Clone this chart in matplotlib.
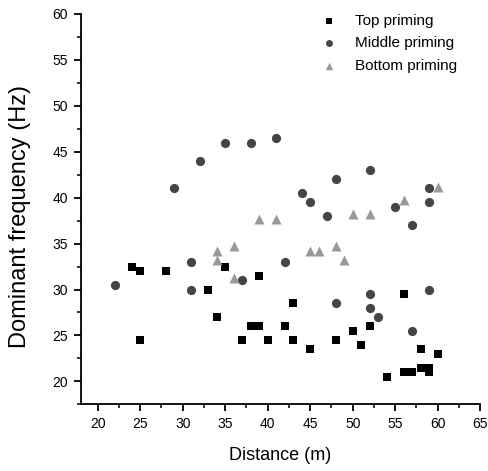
import matplotlib
matplotlib.use("Agg")
import matplotlib.pyplot as plt
from matplotlib.ticker import MultipleLocator

plt.rcParams['font.family'] = ['Liberation Sans', 'DejaVu Sans']

top_x = [24, 25, 25, 28, 33, 34, 35, 37, 38, 39, 39, 40, 42, 43, 43, 45, 48, 50, 51, 52, 54, 56, 56, 57, 58, 58, 59, 59, 60]
top_y = [32.5, 32, 24.5, 32, 30, 27, 32.5, 24.5, 26, 26, 31.5, 24.5, 26, 28.5, 24.5, 23.5, 24.5, 25.5, 24, 26, 20.5, 29.5, 21, 21, 23.5, 21.5, 21.5, 21, 23]

mid_x = [22, 29, 31, 31, 32, 35, 37, 38, 41, 42, 44, 45, 47, 48, 48, 52, 52, 52, 53, 55, 57, 57, 59, 59, 59]
mid_y = [30.5, 41, 33, 30, 44, 46, 31, 46, 46.5, 33, 40.5, 39.5, 38, 42, 28.5, 43, 29.5, 28, 27, 39, 37, 25.5, 41, 39.5, 30]

bot_x = [34, 34, 36, 36, 39, 41, 45, 46, 48, 49, 50, 52, 56, 60]
bot_y = [34.2, 33.2, 34.7, 31.2, 37.7, 37.7, 34.2, 34.2, 34.7, 33.2, 38.2, 38.2, 39.7, 41.2]

fig = plt.figure(figsize=(4.89, 4.71), dpi=100)
ax = fig.add_axes([0.165, 0.1416, 0.817, 0.8287])

ax.scatter(top_x, top_y, marker='s', s=36, color='black', label='Top priming', linewidths=0)
ax.scatter(mid_x, mid_y, marker='o', s=44, color='#454545', label='Middle priming', linewidths=0)
ax.scatter(bot_x, bot_y, marker='^', s=52, color='#999999', label='Bottom priming', linewidths=0)

ax.set_xlim(18, 65)
ax.set_ylim(17.5, 60)
ax.xaxis.set_major_locator(MultipleLocator(5))
ax.xaxis.set_minor_locator(MultipleLocator(2.5))
ax.yaxis.set_major_locator(MultipleLocator(5))
ax.yaxis.set_minor_locator(MultipleLocator(2.5))

for s in ['top', 'right']:
    ax.spines[s].set_visible(False)
for s in ['left', 'bottom']:
    ax.spines[s].set_linewidth(1.3)

ax.tick_params(which='major', direction='out', length=5, width=1.3, labelsize=10, pad=4)
ax.tick_params(which='minor', direction='out', length=3, width=1.1)

ax.set_xlabel('Distance (m)', fontsize=13, labelpad=12)
ax.set_ylabel('Dominant frequency (Hz)', fontsize=17)
ax.yaxis.set_label_coords(-0.125, 0.482)

ax.legend(loc='upper left', bbox_to_anchor=(0.567, 1.035), frameon=False,
          prop={'size': 11}, handletextpad=1.2, labelspacing=0.55,
          scatterpoints=1, markerscale=0.75, handlelength=1.0)

fig.savefig('out.png', dpi=100)
